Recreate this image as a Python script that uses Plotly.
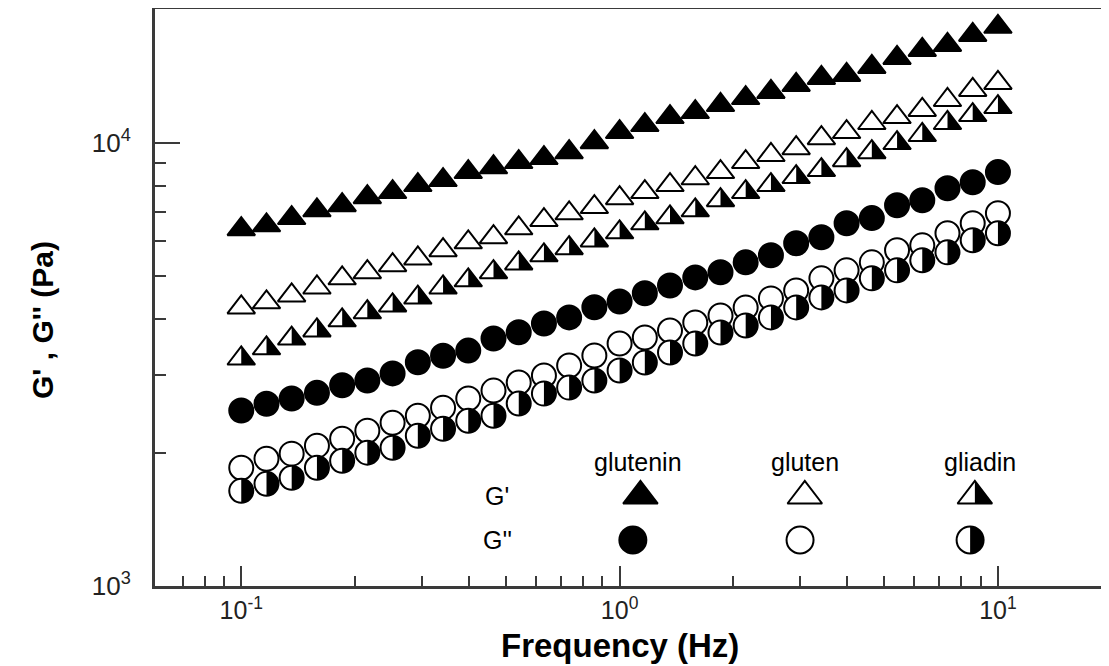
import plotly.graph_objects as go

# ---------------- data ----------------
freq = [0.1, 0.1166, 0.1359, 0.1585, 0.1848, 0.2154, 0.2512, 0.2929, 0.3415, 0.3981,
        0.4642, 0.5412, 0.6310, 0.7356, 0.8577, 1.0, 1.166, 1.359, 1.585, 1.848,
        2.154, 2.512, 2.929, 3.415, 3.981, 4.642, 5.412, 6.310, 7.356, 8.577, 10.0]

glutenin_G1 = [6390, 6520, 6770, 7050, 7240, 7550, 7750, 8040, 8250, 8600,
               8820, 9060, 9250, 9540, 10050, 10590, 10980, 11450, 11750, 12190,
               12640, 13050, 13530, 14030, 14250, 14860, 15570, 16230, 16660, 17550, 18300]
gluten_G1 = [4256, 4370, 4530, 4720, 4950, 5110, 5300, 5490, 5730, 5970,
             6130, 6420, 6700, 6940, 7170, 7510, 7750, 8040, 8330, 8600,
             9060, 9400, 9740, 10260, 10590, 11100, 11450, 11880, 12510, 13180, 13670]
gliadin_G1 = [3263, 3440, 3620, 3775, 3980, 4150, 4300, 4480, 4720, 4900,
              5110, 5350, 5580, 5790, 6030, 6290, 6590, 6800, 7050, 7430,
              7750, 8040, 8380, 8690, 9150, 9540, 10000, 10430, 11100, 11570, 12060]
glutenin_G2 = [2490, 2580, 2650, 2730, 2840, 2910, 3020, 3200, 3310, 3400,
               3620, 3740, 3915, 4040, 4260, 4390, 4580, 4770, 4975, 5110,
               5380, 5580, 5940, 6130, 6590, 6770, 7240, 7430, 7910, 8160, 8600]
gluten_G2 = [1849, 1938, 1990, 2074, 2150, 2242, 2337, 2424, 2527, 2650,
             2762, 2880, 2987, 3146, 3314, 3527, 3640, 3775, 3936, 4082,
             4256, 4460, 4649, 4950, 5160, 5380, 5727, 5877, 6257, 6592, 6944]
gliadin_G2 = [1640, 1701, 1755, 1849, 1918, 2000, 2052, 2184, 2265, 2361,
              2424, 2582, 2719, 2805, 2910, 3066, 3196, 3366, 3527, 3736,
              3875, 4040, 4256, 4483, 4649, 4950, 5160, 5436, 5666, 6033, 6257]

x_tickvals = [0.1, 1, 10]
x_ticktext = ["10<sup>-1</sup>", "10<sup>0</sup>", "10<sup>1</sup>"]
x_minor = [0.07, 0.08, 0.09, 0.2, 0.3, 0.4, 0.5, 0.6, 0.7, 0.8, 0.9,
           2, 3, 4, 5, 6, 7, 8, 9]
y_tickvals = [1000, 10000]
y_ticktext = ["10<sup>3</sup>", "10<sup>4</sup>"]
y_minor = [2000, 3000, 4000, 5000, 6000, 7000, 8000, 9000]

legend_cols = ["glutenin", "gluten", "gliadin"]
legend_rows = ["G'", "G''"]

# ---------------- styling ----------------
FONT = "Liberation Sans, Arial, sans-serif"
AX = "#3a3a3a"
TRI = 24      # triangle marker size (px)
CIR = 24      # circle marker size (px)
LTRI = 30     # legend triangle size
LCIR = 27     # legend circle size


def half_triangle_path(size):
    """Right half of a plotly 'triangle-up' marker, in pixel offsets (y up)."""
    r = size / 2.0
    rt = r * 2 / 3 ** 0.5
    r2 = r / 2.0
    return f"M 0,{r:.2f} L {rt:.2f},{-r2:.2f} L 0,{-r2:.2f} Z"


def half_circle_path(size):
    """Right half of a plotly 'circle' marker, in pixel offsets (y up)."""
    R = size / 2.0
    k = 0.5523 * R
    return (f"M 0,{R:.2f} C {k:.2f},{R:.2f} {R:.2f},{k:.2f} {R:.2f},0 "
            f"C {R:.2f},{-k:.2f} {k:.2f},{-R:.2f} 0,{-R:.2f} Z")


fig = go.Figure()
shapes = []


def series(y, symbol, size, fill):
    fig.add_trace(go.Scatter(x=freq, y=y, mode="markers", showlegend=False,
                             marker=dict(symbol=symbol, size=size, color=fill,
                                         line=dict(color="black", width=2))))


def half_black(xs, ys, path, xref="x", yref="y"):
    for xv, yv in zip(xs, ys):
        shapes.append(dict(type="path", xref=xref, yref=yref,
                           xsizemode="pixel", ysizemode="pixel",
                           xanchor=xv, yanchor=yv, path=path,
                           fillcolor="black", line=dict(width=0), layer="above"))


series(glutenin_G1, "triangle-up", TRI, "black")
series(gluten_G1, "triangle-up", TRI, "white")
series(gliadin_G1, "triangle-up", TRI, "white")
half_black(freq, gliadin_G1, half_triangle_path(TRI))
series(glutenin_G2, "circle", CIR, "black")
series(gluten_G2, "circle", CIR, "white")
series(gliadin_G2, "circle", CIR, "white")
half_black(freq, gliadin_G2, half_circle_path(CIR))

# ---------------- legend (drawn inside the plot) ----------------
lx_tri = [0.511, 0.684, 0.863]
lx_cir = [0.503, 0.679, 0.858]
ly_G1, ly_G2, ly_head = 0.1557, 0.0796, 0.2145
fig.add_trace(go.Scatter(x=lx_tri, y=[ly_G1] * 3, xaxis="x2", yaxis="y2",
                         mode="markers", showlegend=False, hoverinfo="skip",
                         marker=dict(symbol="triangle-up", size=LTRI,
                                     color=["black", "white", "white"],
                                     line=dict(color="black", width=2))))
fig.add_trace(go.Scatter(x=lx_cir, y=[ly_G2] * 3, xaxis="x2", yaxis="y2",
                         mode="markers", showlegend=False, hoverinfo="skip",
                         marker=dict(symbol="circle", size=LCIR,
                                     color=["black", "white", "white"],
                                     line=dict(color="black", width=2))))
half_black([lx_tri[2]], [ly_G1], half_triangle_path(LTRI), "x2", "y2")
half_black([lx_cir[2]], [ly_G2], half_circle_path(LCIR), "x2", "y2")

annotations = []
for name, xx in zip(legend_cols, [0.508, 0.684, 0.868]):
    annotations.append(dict(x=xx, y=ly_head, xref="paper", yref="paper", text=name,
                            showarrow=False, xanchor="center", yanchor="middle",
                            font=dict(family=FONT, size=25, color="black")))
for name, yy in zip(legend_rows, [ly_G1, ly_G2]):
    annotations.append(dict(x=0.36, y=yy, xref="paper", yref="paper", text=name,
                            showarrow=False, xanchor="center", yanchor="middle",
                            font=dict(family=FONT, size=25, color="black")))
annotations.append(dict(x=0.4895, y=-0.103, xref="paper", yref="paper",
                        text="Frequency (Hz)", showarrow=False,
                        xanchor="center", yanchor="middle",
                        font=dict(family=FONT, size=33, color="black", weight="bold")))
annotations.append(dict(x=-0.119, y=0.46, xref="paper", yref="paper",
                        text="G' , G'' (Pa)", showarrow=False, textangle=-90,
                        xanchor="center", yanchor="middle",
                        font=dict(family=FONT, size=30, color="black", weight="bold")))

fig.update_layout(
    width=1101, height=658,
    margin=dict(l=147, r=4, t=0, b=80),
    paper_bgcolor="white", plot_bgcolor="white",
    annotations=annotations,
    shapes=shapes + [
        dict(type="line", xref="paper", yref="paper", x0=0, x1=1, y0=1, y1=1,
             line=dict(color=AX, width=2)),
        dict(type="line", xref="paper", yref="paper", x0=1, x1=1, y0=0, y1=1,
             line=dict(color="#888888", width=1.2)),
    ],
    xaxis=dict(type="log", range=[-1.228, 1.283], tickvals=x_tickvals, ticktext=x_ticktext,
               ticks="inside", ticklen=20, tickwidth=2, tickcolor=AX,
               showline=True, linewidth=3, linecolor=AX, showgrid=False, zeroline=False,
               tickfont=dict(family=FONT, size=25, color="#222"),
               minor=dict(tickvals=x_minor, ticks="inside", ticklen=10, tickwidth=2,
                          tickcolor=AX, showgrid=False)),
    yaxis=dict(type="log", range=[3, 4.305], tickvals=y_tickvals, ticktext=y_ticktext,
               ticks="inside", ticklen=25, tickwidth=2, tickcolor=AX,
               showline=True, linewidth=3, linecolor=AX, showgrid=False, zeroline=False,
               ticklabelstandoff=16,
               tickfont=dict(family=FONT, size=26, color="#222"),
               minor=dict(tickvals=y_minor, ticks="inside", ticklen=11, tickwidth=2,
                          tickcolor=AX, showgrid=False)),
    xaxis2=dict(overlaying="x", range=[0, 1], visible=False, fixedrange=True),
    yaxis2=dict(overlaying="y", range=[0, 1], visible=False, fixedrange=True),
)

fig.write_html("out.html")
